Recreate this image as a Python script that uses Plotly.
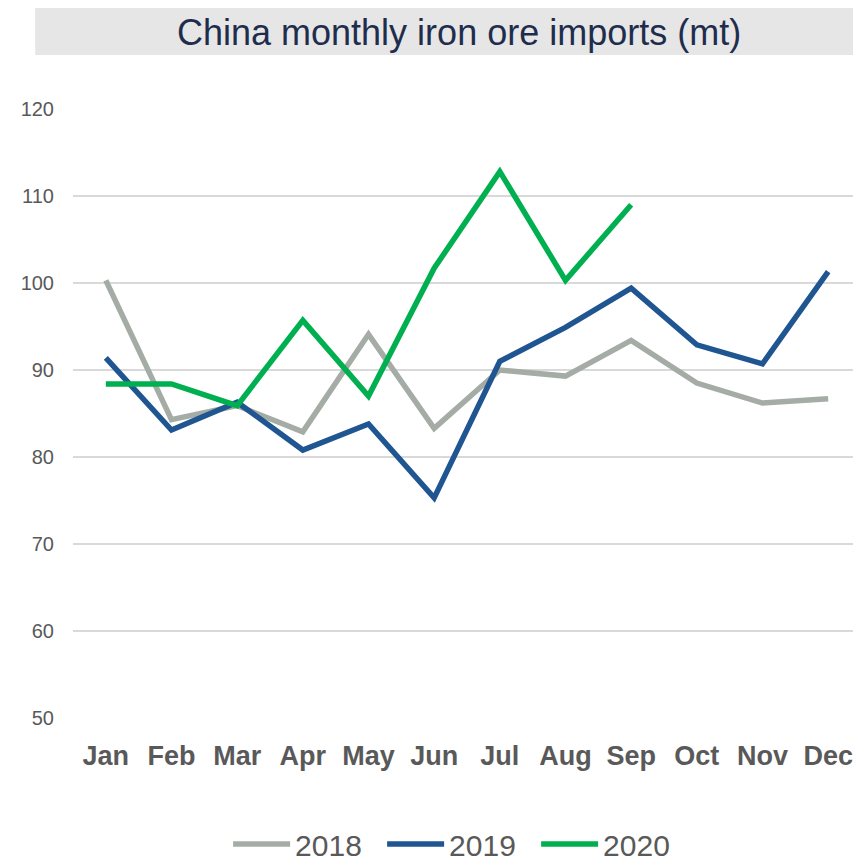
import plotly.graph_objects as go

months = ["Jan", "Feb", "Mar", "Apr", "May", "Jun", "Jul", "Aug", "Sep", "Oct", "Nov", "Dec"]
y2018 = [100.3, 84.3, 85.9, 82.9, 94.1, 83.3, 90.0, 89.3, 93.4, 88.5, 86.2, 86.7]
y2019 = [91.4, 83.1, 86.3, 80.8, 83.8, 75.3, 91.0, 94.9, 99.4, 92.9, 90.7, 101.3]
y2020 = [88.4, 88.4, 85.9, 95.7, 87.0, 101.7, 112.8, 100.3, 109.0]
ticks = [50, 60, 70, 80, 90, 100, 110, 120]

fig = go.Figure()
for name, ys, col in [("2018", y2018, "#a5aca5"), ("2019", y2019, "#1f5591"), ("2020", y2020, "#00b050")]:
    fig.add_trace(go.Scatter(x=months[:len(ys)], y=ys, name=name, mode="lines",
                             line=dict(color=col, width=5.5)))

fig.add_shape(type="rect", xref="paper", yref="paper", x0=-0.048, x1=1.02, y0=1.0887, y1=1.174,
              fillcolor="#e6e6e6", line_width=0, layer="below")
fig.add_annotation(text="China monthly iron ore imports (mt)", xref="paper", yref="paper",
                   x=0.49, y=1.1264, showarrow=False, xanchor="center", yanchor="middle",
                   font=dict(family="Liberation Sans, Arial", size=36, color="#1f2d4d"))

fig.update_layout(
    width=853, height=866,
    margin=dict(l=65, r=0, t=101, b=156),
    paper_bgcolor="white", plot_bgcolor="white",
    showlegend=True,
    legend=dict(orientation="h", x=0.49, xanchor="center", y=-0.207, yanchor="middle",
                font=dict(family="Liberation Sans, Arial", size=30, color="#595959"),
                itemwidth=57, tracegroupgap=0, entrywidth=82, entrywidthmode="pixels"),
    xaxis=dict(type="category", categoryorder="array", categoryarray=months,
               range=[-0.5, 11.5], showgrid=False, showline=False, zeroline=False,
               tickfont=dict(family="Liberation Sans, Arial", size=27, color="#595959", weight="bold"),
               ticks="", ticklabelstandoff=19),
    yaxis=dict(range=[50, 120], tickvals=ticks, showgrid=True, gridcolor="#d9d9d9", gridwidth=2,
               zeroline=False, showline=False, ticks="",
               tickfont=dict(family="Liberation Sans, Arial", size=20, color="#595959"),
               ticklabelstandoff=18),
)
fig.write_html("out.html")
